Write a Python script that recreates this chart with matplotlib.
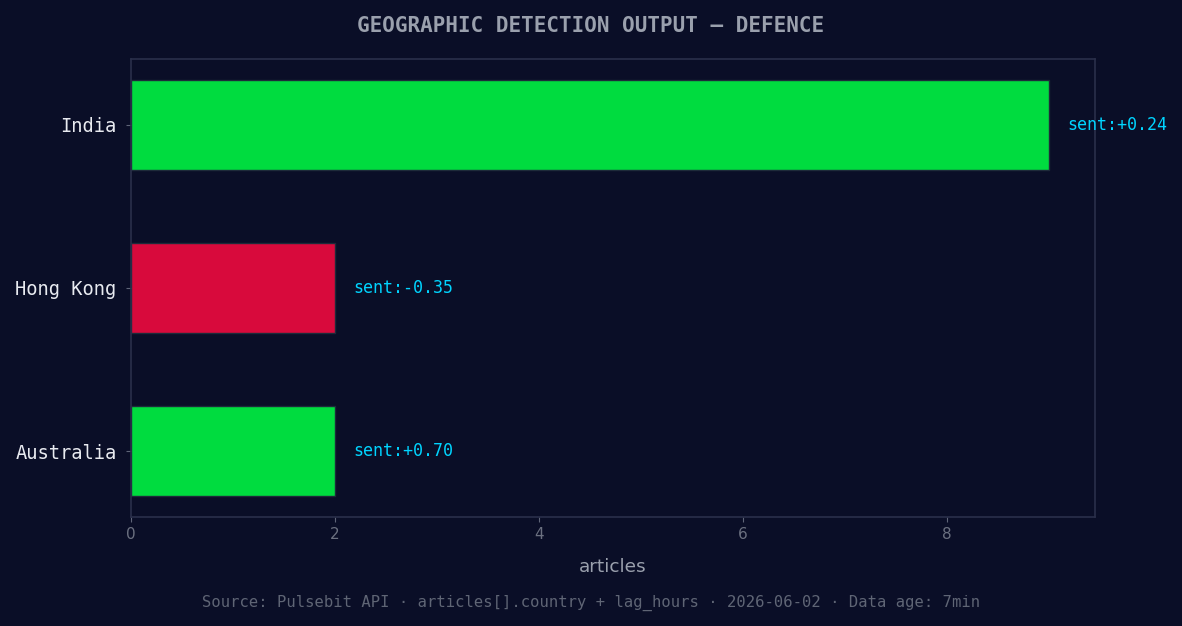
import matplotlib
matplotlib.use("Agg")
import matplotlib.pyplot as plt

countries = ["Australia", "Hong Kong", "India"]
articles = [2, 2, 9]
sentiment = [0.70, -0.35, 0.24]

BG = "#0a0e27"
GREEN = "#00dc3f"
RED = "#d80a3c"
CYAN = "#00d4ff"
SPINE = "#2a2f4a"

fig, ax = plt.subplots(figsize=(11.82, 6.26), dpi=100)
fig.patch.set_facecolor(BG)
ax.set_facecolor(BG)

colors = [GREEN if s >= 0 else RED for s in sentiment]
ax.barh(countries, articles, height=0.55, color=colors, edgecolor="#1e2a3a", linewidth=1)

for i, (n, s) in enumerate(zip(articles, sentiment)):
    ax.text(n + max(articles) * 0.02, i, f"sent:{s:+.2f}", color=CYAN,
            va="center", ha="left", fontsize=12, family="DejaVu Sans Mono")

ax.set_xlim(0, max(articles) * 1.05)
for sp in ax.spines.values():
    sp.set_color(SPINE)
    sp.set_linewidth(1.2)
ax.tick_params(axis="x", colors="#5f6578", labelcolor="#6b7080", labelsize=11)
ax.tick_params(axis="y", colors="#5f6578", labelcolor="#e8eaf0", labelsize=13.5, pad=7)
for lbl in ax.get_yticklabels():
    lbl.set_family("DejaVu Sans Mono")
ax.set_xlabel("articles", color="#9aa0ad", fontsize=13.3, labelpad=12)

fig.suptitle("GEOGRAPHIC DETECTION OUTPUT — DEFENCE", color="#9aa0ad",
             fontsize=15, fontweight="bold", family="DejaVu Sans Mono", y=0.975)
fig.text(0.5, 0.037, "Source: Pulsebit API · articles[].country + lag_hours · 2026-06-02 · Data age: 7min",
         ha="center", va="center", color="#5f6575", fontsize=11.2, family="DejaVu Sans Mono")

fig.subplots_adjust(left=0.111, right=0.926, top=0.906, bottom=0.174)
fig.savefig("out.png", dpi=100, facecolor=BG)
